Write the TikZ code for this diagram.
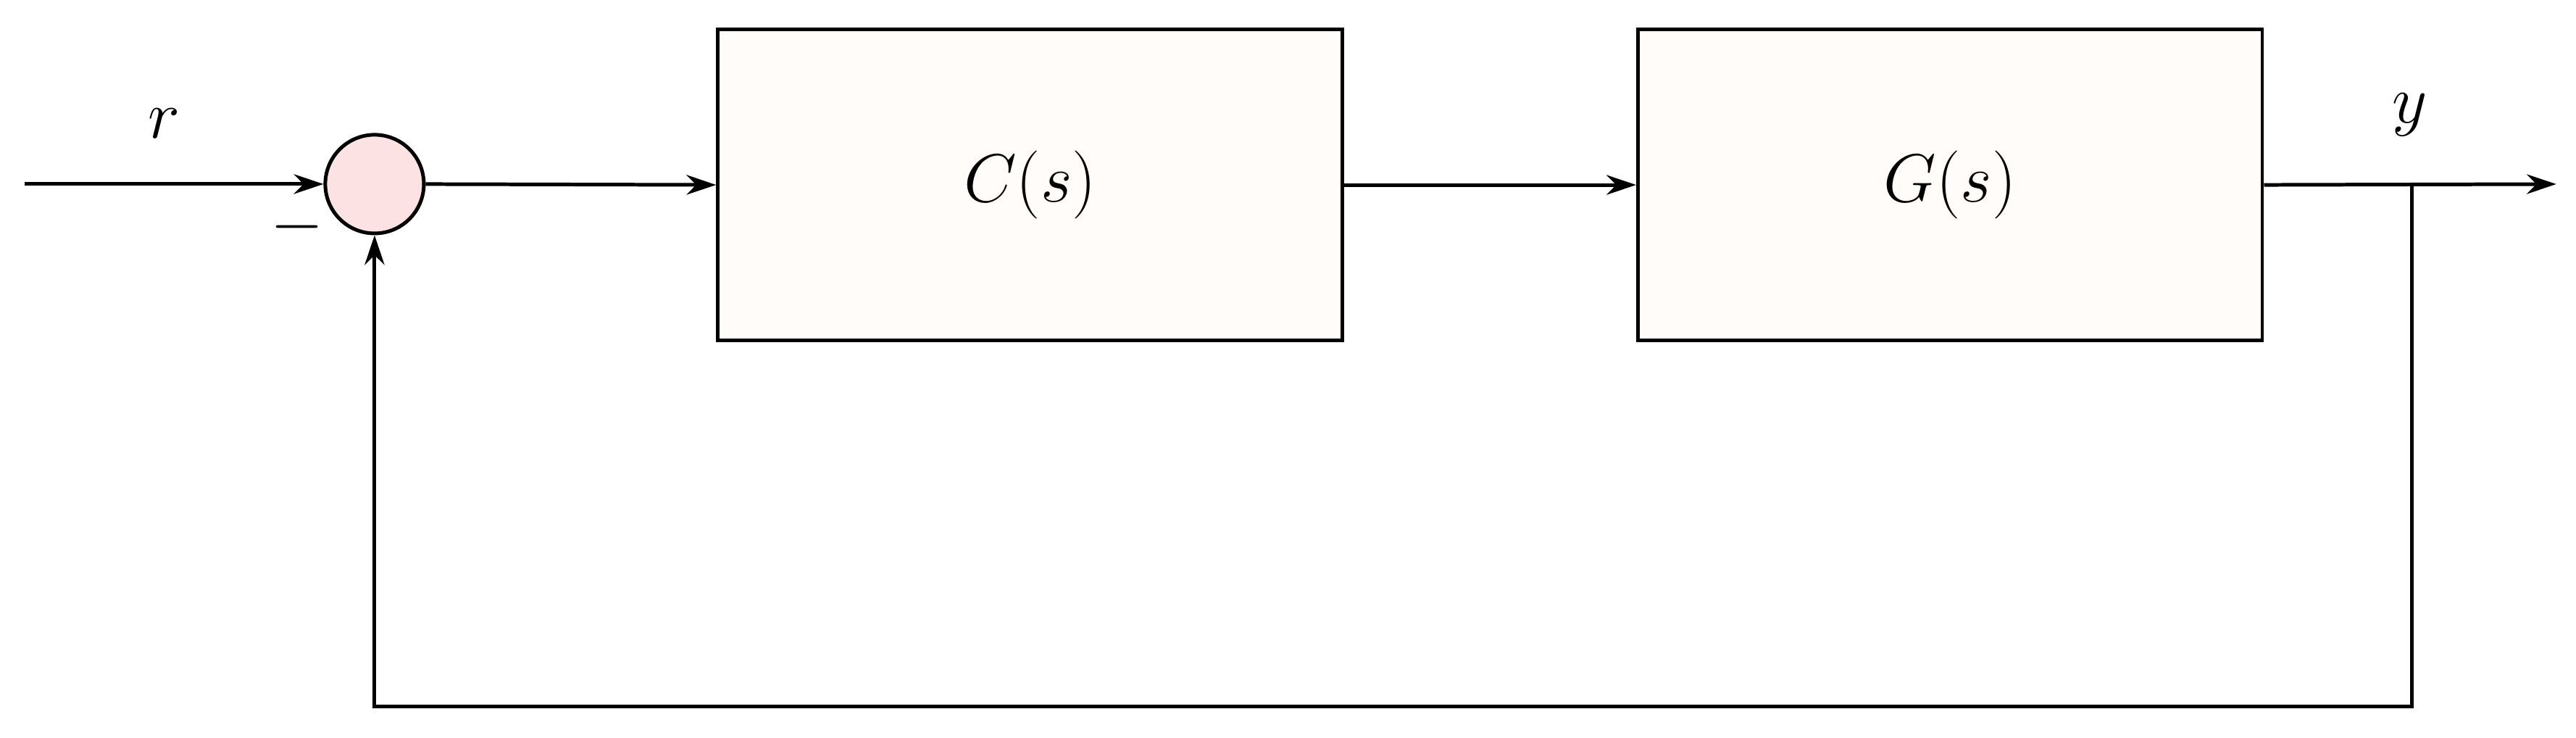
\documentclass[tikz,border=0pt]{standalone}
\usetikzlibrary{arrows.meta}
\begin{document}
\begin{tikzpicture}[x=0.5pt,y=-0.5pt,
  blk/.style={draw,line width=1.1pt,fill={rgb,255:red,255;green,252;blue,250},minimum width=190pt,minimum height=94.5pt,inner sep=0pt,font=\fontsize{22}{26}\selectfont},
  sumc/.style={circle,draw,line width=1.1pt,fill={rgb,255:red,253;green,226;blue,228},minimum size=30pt,inner sep=0pt},
  conn/.style={line width=1.1pt,-{Stealth[length=9pt,width=6pt]}},
  lbl/.style={font=\fontsize{22}{26}\selectfont}]
\useasboundingbox (0,0) rectangle (1568,449);
\coordinate (in) at (15,112);
\node[sumc] (s) at (228,112) {};
\node[blk] (c) at (627,112.5) {$C(s)$};
\node[blk] (g) at (1187,112.5) {$G(s)$};
\coordinate (out) at (1556,112);
\coordinate (br) at (1468,112);
\coordinate (bl) at (1468,430);
\coordinate (bm) at (228,430);
\draw[conn] (in) -- (s.west);
\draw[conn] (s.east) -- (c.west);
\draw[conn] (c.east) -- (g.west);
\draw[conn] (g.east) -- (out);
\draw[conn] (br) -- (bl) -- (bm) -- (s.south);
\node[lbl] (r) at (100,75) {$r$};
\node[lbl] (y) at (1467,70) {$y$};
\node[lbl] (m) at (181,138) {$-$};
\end{tikzpicture}
\end{document}
